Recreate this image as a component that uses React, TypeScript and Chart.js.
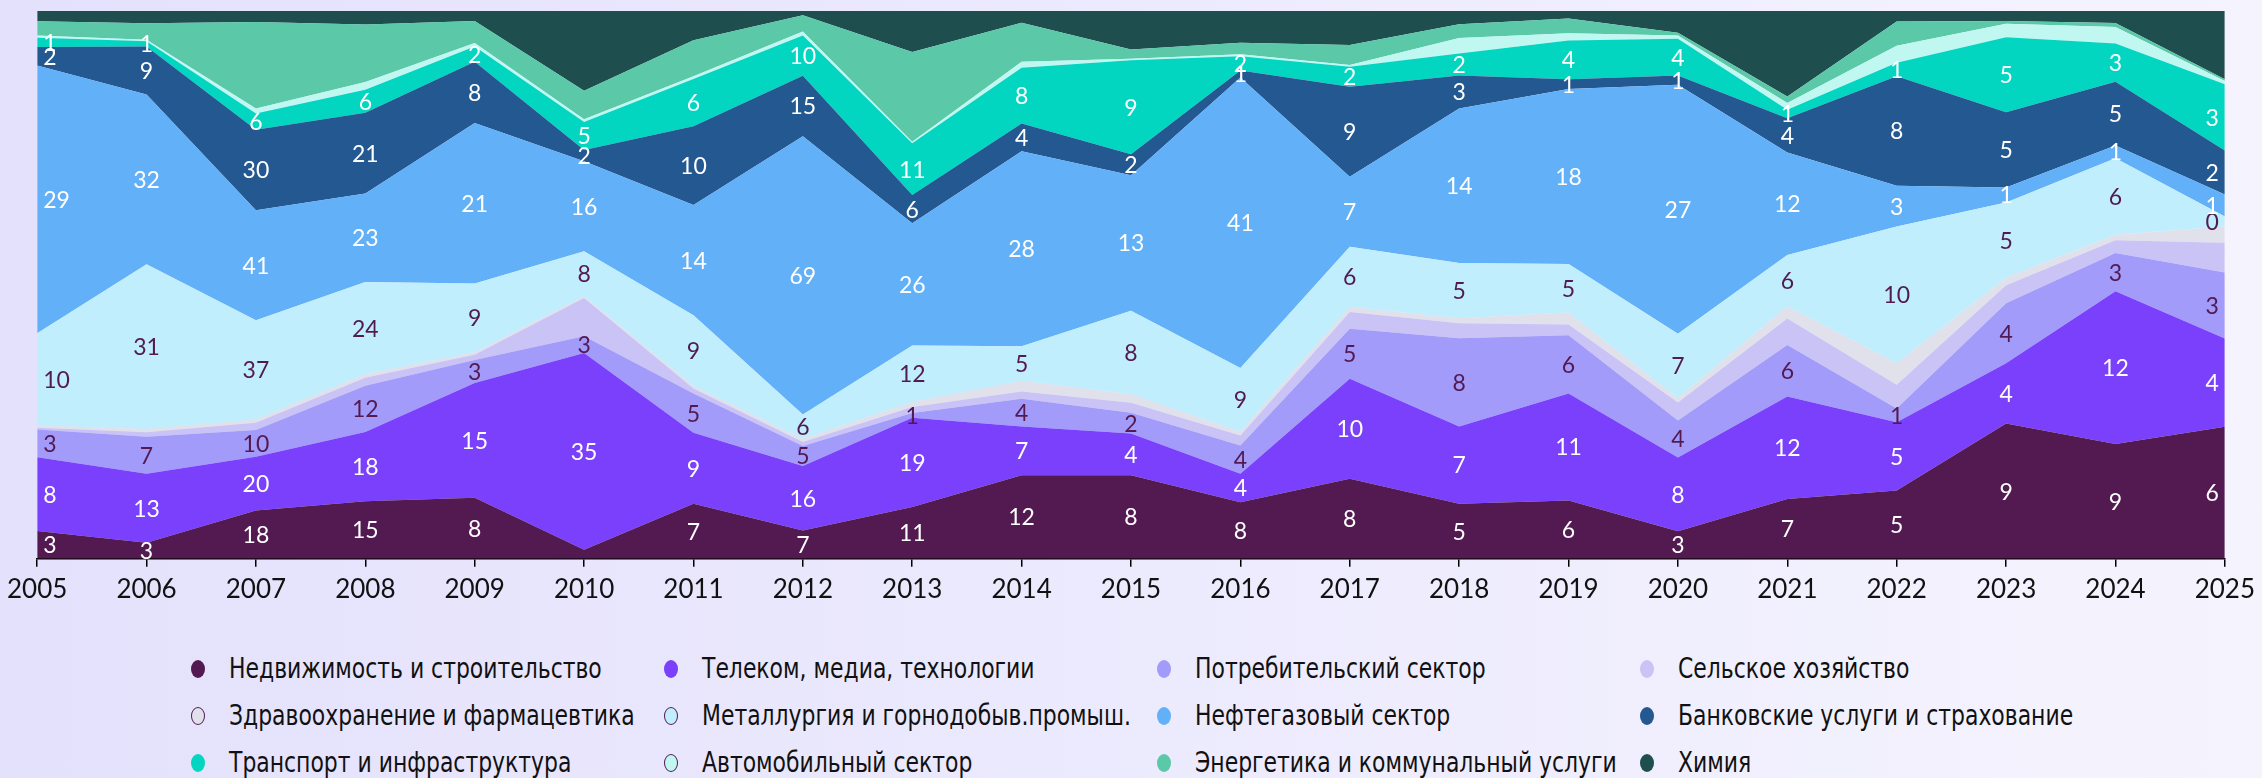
import React, { useEffect, useRef } from "react";
import { Chart, registerables } from "chart.js";

Chart.register(...registerables);

// ---------- DATA ----------
const years = ["2005", "2006", "2007", "2008", "2009", "2010", "2011", "2012", "2013", "2014", "2015", "2016", "2017", "2018", "2019", "2020", "2021", "2022", "2023", "2024", "2025"];

const seriesNames = [
  "Недвижимость и строительство",
  "Телеком, медиа, технологии",
  "Потребительский сектор",
  "Сельское хозяйство",
  "Здравоохранение и фармацевтика",
  "Металлургия и горнодобыв.промыш.",
  "Нефтегазовый сектор",
  "Банковские услуги и страхование",
  "Транспорт и инфраструктура",
  "Автомобильный сектор",
  "Энергетика и коммунальный услуги",
  "Химия",
];

const realEstate = [3, 3, 18, 15, 8, 1.6, 7, 7, 11, 12, 8, 8, 8, 5, 6, 3, 7, 5, 9, 9, 6];
const telecom = [8, 13, 20, 18, 15, 35, 9, 16, 19, 7, 4, 4, 10, 7, 11, 8, 12, 5, 4, 12, 4];
const consumer = [3, 7, 10, 12, 3, 3, 5, 5, 1, 4, 2, 4, 5, 8, 6, 4, 6, 1, 4, 3, 3];
const agriculture = [0.2, 0.85, 2.7, 2.1, 0.7, 6.8, 0.63, 1.0, 1.3, 1.05, 0.96, 1.4, 1.67, 1.36, 1.1, 1.96, 3.1, 1.73, 1.2, 1.0, 1.35];
const healthcare = [0.25, 0.6, 1.2, 0.9, 0.3, 0.3, 0.3, 0.8, 1.06, 1.5, 0.8, 0.55, 0.5, 0.45, 1.24, 0.47, 1.44, 1.58, 0.5, 0.44, 0.74];
const metals = [10, 31, 37, 24, 9, 8, 9, 6, 12, 5, 8, 9, 6, 5, 5, 7, 6, 10, 5, 6, 0.45];
const oilGas = [29, 32, 41, 23, 21, 16, 14, 69, 26, 28, 13, 41, 7, 14, 18, 27, 12, 3, 1, 1, 1];
const banking = [2, 9, 30, 21, 8, 2, 10, 15, 6, 4, 2, 1, 9, 3, 1, 1, 4, 8, 5, 5, 2];
const transport = [1, 1, 6, 6, 2, 5, 6, 10, 11, 8, 9, 2, 2, 2, 4, 4, 1, 1, 5, 3, 3];
const automotive = [0.25, 0.3, 1.9, 2.0, 0.44, 0.48, 0.34, 1.0, 0.34, 0.86, 0.16, 0.3, 0.17, 1.4, 0.75, 0.36, 0.78, 1.24, 0.9, 1.3, 0.15];
const energy = [1.55, 3.1, 32.2, 15, 2.9, 5.05, 4.6, 4.0, 19.1, 5.6, 0.87, 1.6, 2.0, 1.25, 1.5, 0.3, 0.77, 1.78, 0.17, 0.3, 0.08];
const chemistry = [1.1, 2.3, 4.1, 3.5, 1.3, 14.2, 3.7, 1.07, 8.7, 1.7, 3.7, 4.5, 3.4, 1.2, 0.78, 2.35, 10, 0.76, 0.67, 0.95, 3.1];

const seriesValues = [realEstate, telecom, consumer, agriculture, healthcare, metals, oilGas, banking, transport, automotive, energy, chemistry];

// which series carry value labels; labels not shown in the source
const labelledSeries = [true, true, true, false, false, true, true, true, true, false, false, false];
const hiddenLabels = [{ series: 0, year: "2010" }];

// ---------- STYLES ----------
const colors = ["#521A50", "#7A40FB", "#A29BFA", "#C9C4F5", "#E1E1EC", "#C0EEFC", "#62B0F7", "#245890", "#02D6C0", "#C0F8F1", "#5BC8A8", "#1F4E4E"];
const labelColors = ["#FFFFFF", "#FFFFFF", "#521A50", null, null, "#521A50", "#FFFFFF", "#FFFFFF", "#FFFFFF", null, null, null];
const legendOutline = [false, false, false, false, true, true, false, false, false, true, false, false];

const NUM_FONT = "Lato, 'Open Sans', sans-serif";
const TEXT_FONT = "'DejaVu Sans Condensed', 'Noto Sans', sans-serif";

const totals = years.map((_, j) => seriesValues.reduce((s, arr) => s + arr[j], 0));

const labelPlugin = {
  id: "stackLabels",
  afterDatasetsDraw(chart: any) {
    const ctx = chart.ctx;
    const area = chart.chartArea;
    ctx.save();
    ctx.font = `23px ${NUM_FONT}`;
    ctx.textAlign = "center";
    ctx.textBaseline = "middle";
    chart.data.datasets.forEach((_ds: any, di: number) => {
      if (!labelledSeries[di]) return;
      const meta = chart.getDatasetMeta(di);
      const prev = di > 0 ? chart.getDatasetMeta(di - 1) : null;
      meta.data.forEach((pt: any, j: number) => {
        if (hiddenLabels.some((h) => h.series === di && h.year === years[j])) return;
        const top = pt.y;
        const bottom = prev ? prev.data[j].y : area.bottom;
        const text = String(Math.round(seriesValues[di][j]));
        const w = ctx.measureText(text).width;
        const x = Math.min(Math.max(pt.x, area.left + w / 2 + 6), area.right - w / 2 - 6);
        ctx.fillStyle = labelColors[di] as string;
        ctx.fillText(text, x, (top + bottom) / 2 + 1);
      });
    });
    ctx.restore();
  },
};

function StackedChart() {
  const ref = useRef<HTMLCanvasElement | null>(null);
  useEffect(() => {
    if (!ref.current) return;
    const datasets = seriesValues.map((vals, i) => ({
      label: seriesNames[i],
      data: vals.map((v, j) => (v / totals[j]) * 100),
      backgroundColor: colors[i],
      borderColor: colors[i],
      borderWidth: 0,
      pointRadius: 0,
      tension: 0,
      fill: i === 0 ? "origin" : "-1",
    }));
    const chart = new Chart(ref.current, {
      type: "line",
      data: { labels: years, datasets },
      options: {
        responsive: false,
        animation: false,
        devicePixelRatio: 1,
        layout: { padding: { left: 36, right: 30, top: 11, bottom: 0 } },
        plugins: { legend: { display: false }, tooltip: { enabled: false } },
        scales: {
          x: {
            offset: false,
            grid: { drawOnChartArea: false, drawTicks: true, tickLength: 8, color: "#000000", lineWidth: 1.5 },
            border: { display: true, color: "#000000", width: 1.5 },
            ticks: { color: "#111111", font: { family: NUM_FONT, size: 26 }, padding: 7, maxRotation: 0, autoSkip: false },
          },
          y: { display: false, stacked: true, min: 0, max: 100 },
        },
      },
      plugins: [labelPlugin],
    } as any);
    return () => chart.destroy();
  }, []);
  return <canvas ref={ref} width={2262} height={612} style={{ position: "absolute", left: 0, top: 0, width: 2262, height: 612 }} />;
}

const legendCols = [198, 671, 1164, 1647];
const legendRows = [669, 716, 763];

function Legend() {
  return (
    <>
      {seriesNames.map((name, i) => {
        const col = i % 4;
        const row = Math.floor(i / 4);
        return (
          <div
            key={name}
            style={{
              position: "absolute",
              left: legendCols[col] - 7,
              top: legendRows[row] - 20,
              height: 40,
              display: "flex",
              alignItems: "center",
              whiteSpace: "nowrap",
            }}
          >
            <span
              style={{
                display: "inline-block",
                width: 14,
                height: 18,
                borderRadius: "50%",
                background: colors[i],
                boxSizing: "border-box",
                border: legendOutline[i] ? "1.2px solid #521A50" : "none",
                marginRight: 24,
                flex: "none",
              }}
            />
            <span
              style={{
                display: "inline-block",
                fontFamily: TEXT_FONT,
                fontSize: 28,
                color: "#111111",
                lineHeight: "40px",
                transform: "scaleX(0.87)",
                transformOrigin: "left center",
              }}
            >
              {name}
            </span>
          </div>
        );
      })}
    </>
  );
}

export default function App() {
  return (
    <div
      style={{
        position: "fixed",
        left: 0,
        top: 0,
        width: 2262,
        height: 778,
        overflow: "hidden",
        background: "linear-gradient(90deg, #E4E1FC 0%, #ECEAFD 50%, #F5F4FD 100%)",
      }}
    >
      <StackedChart />
      <Legend />
    </div>
  );
}
